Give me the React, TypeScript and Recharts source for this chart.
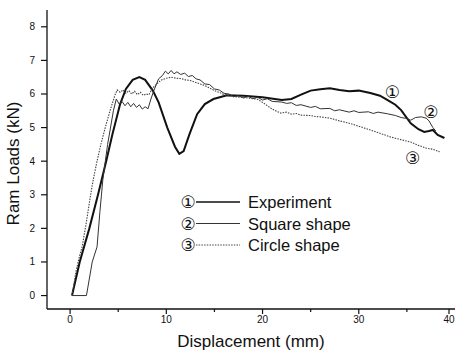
import React from "react";
import { LineChart, Line, XAxis, YAxis, ReferenceDot } from "recharts";

// displacement (mm) / ram load (kN)
const experiment = [
  { x: 0.2, y: 0 }, { x: 1.0, y: 1 }, { x: 2.0, y: 2 }, { x: 2.9, y: 3 }, { x: 3.75, y: 4 },
  { x: 4.4, y: 4.8 }, { x: 5.2, y: 5.7 }, { x: 5.8, y: 6.15 }, { x: 6.5, y: 6.42 }, { x: 7.2, y: 6.5 },
  { x: 7.8, y: 6.42 }, { x: 8.6, y: 6.1 }, { x: 9.2, y: 5.75 }, { x: 10.1, y: 5.0 }, { x: 10.9, y: 4.43 },
  { x: 11.35, y: 4.22 }, { x: 11.8, y: 4.3 }, { x: 12.4, y: 4.8 }, { x: 13.2, y: 5.4 }, { x: 14.0, y: 5.7 },
  { x: 14.9, y: 5.85 }, { x: 16.3, y: 5.96 }, { x: 18, y: 5.95 }, { x: 20, y: 5.9 }, { x: 22, y: 5.82 },
  { x: 23, y: 5.85 }, { x: 24, y: 5.98 }, { x: 25, y: 6.1 }, { x: 26, y: 6.14 }, { x: 27, y: 6.17 },
  { x: 28, y: 6.12 }, { x: 29, y: 6.08 }, { x: 30, y: 6.1 }, { x: 31.2, y: 6.03 }, { x: 32.2, y: 5.95 },
  { x: 33, y: 5.82 }, { x: 33.8, y: 5.68 }, { x: 34.4, y: 5.52 }, { x: 35.4, y: 5.13 }, { x: 36.2, y: 4.95 },
  { x: 36.8, y: 4.87 }, { x: 37.3, y: 4.9 }, { x: 37.7, y: 4.93 }, { x: 38.2, y: 4.78 }, { x: 38.9, y: 4.69 },
];

const squareShape = [
  { x: 0.2, y: 0 }, { x: 1.7, y: 0 }, { x: 2.3, y: 1 }, { x: 2.8, y: 1.45 }, { x: 3.1, y: 2.5 },
  { x: 3.4, y: 3.44 }, { x: 3.9, y: 4.5 }, { x: 4.5, y: 5.5 }, { x: 4.8, y: 5.85 }, { x: 5.1, y: 5.7 },
  { x: 5.4, y: 5.78 }, { x: 5.7, y: 5.65 }, { x: 6.0, y: 5.75 }, { x: 6.3, y: 5.62 }, { x: 6.6, y: 5.72 },
  { x: 6.9, y: 5.6 }, { x: 7.2, y: 5.68 }, { x: 7.5, y: 5.55 }, { x: 7.8, y: 5.62 }, { x: 8.1, y: 5.56 },
  { x: 8.4, y: 5.85 }, { x: 8.7, y: 6.1 }, { x: 9.2, y: 6.45 }, { x: 9.6, y: 6.55 }, { x: 9.9, y: 6.68 },
  { x: 10.2, y: 6.6 }, { x: 10.5, y: 6.7 }, { x: 10.8, y: 6.6 }, { x: 11.1, y: 6.66 }, { x: 11.5, y: 6.58 },
  { x: 11.9, y: 6.62 }, { x: 12.3, y: 6.52 }, { x: 12.7, y: 6.55 }, { x: 13.1, y: 6.45 }, { x: 13.5, y: 6.42 },
  { x: 14, y: 6.3 }, { x: 14.5, y: 6.28 }, { x: 15, y: 6.15 }, { x: 15.5, y: 6.12 }, { x: 16, y: 6.02 },
  { x: 16.5, y: 6.0 }, { x: 17, y: 5.92 }, { x: 17.5, y: 5.95 }, { x: 18, y: 5.88 }, { x: 18.5, y: 5.93 },
  { x: 19, y: 5.86 }, { x: 19.5, y: 5.9 }, { x: 20, y: 5.82 }, { x: 20.5, y: 5.86 }, { x: 21, y: 5.78 },
  { x: 22, y: 5.76 }, { x: 22.5, y: 5.72 }, { x: 23, y: 5.74 }, { x: 23.5, y: 5.66 }, { x: 24, y: 5.68 },
  { x: 25, y: 5.6 }, { x: 25.5, y: 5.63 }, { x: 26, y: 5.56 }, { x: 27, y: 5.57 }, { x: 27.5, y: 5.5 },
  { x: 28, y: 5.53 }, { x: 29, y: 5.46 }, { x: 29.5, y: 5.5 }, { x: 30, y: 5.45 }, { x: 31, y: 5.47 },
  { x: 31.5, y: 5.42 }, { x: 32, y: 5.46 }, { x: 33, y: 5.41 }, { x: 33.8, y: 5.36 }, { x: 34.4, y: 5.3 },
  { x: 35, y: 5.27 }, { x: 35.4, y: 5.22 }, { x: 35.9, y: 5.3 }, { x: 36.5, y: 5.32 }, { x: 37.0, y: 5.28 },
  { x: 37.3, y: 5.2 }, { x: 37.7, y: 5.0 }, { x: 38.0, y: 4.9 },
];

const circleShape = [
  { x: 0.2, y: 0 }, { x: 0.6, y: 0.7 }, { x: 1.0, y: 1.2 }, { x: 1.25, y: 1.45 }, { x: 1.7, y: 2.2 },
  { x: 2.1, y: 2.94 }, { x: 2.4, y: 3.44 }, { x: 2.8, y: 4.0 }, { x: 3.2, y: 4.5 }, { x: 3.65, y: 5.0 },
  { x: 4.2, y: 5.55 }, { x: 4.7, y: 6.0 }, { x: 4.9, y: 6.12 }, { x: 5.2, y: 6.05 }, { x: 5.5, y: 6.12 },
  { x: 5.8, y: 6.02 }, { x: 6.1, y: 6.1 }, { x: 6.4, y: 6.0 }, { x: 6.7, y: 6.08 }, { x: 7.0, y: 5.98 },
  { x: 7.3, y: 6.05 }, { x: 7.6, y: 5.96 }, { x: 7.9, y: 6.0 }, { x: 8.2, y: 5.98 }, { x: 8.5, y: 6.15 },
  { x: 9.0, y: 6.3 }, { x: 9.5, y: 6.42 }, { x: 10, y: 6.47 }, { x: 10.5, y: 6.5 }, { x: 11, y: 6.47 },
  { x: 11.5, y: 6.46 }, { x: 12, y: 6.42 }, { x: 12.5, y: 6.4 }, { x: 13, y: 6.35 }, { x: 13.5, y: 6.3 },
  { x: 14, y: 6.25 }, { x: 14.5, y: 6.18 }, { x: 15, y: 6.1 }, { x: 15.5, y: 6.05 }, { x: 16, y: 5.98 },
  { x: 17, y: 5.92 }, { x: 18, y: 5.9 }, { x: 19, y: 5.86 }, { x: 19.5, y: 5.84 }, { x: 20, y: 5.75 },
  { x: 20.5, y: 5.65 }, { x: 21, y: 5.55 }, { x: 21.9, y: 5.43 }, { x: 22.5, y: 5.46 }, { x: 23, y: 5.4 },
  { x: 23.5, y: 5.42 }, { x: 24, y: 5.37 }, { x: 25, y: 5.36 }, { x: 25.5, y: 5.33 }, { x: 26, y: 5.32 },
  { x: 27, y: 5.28 }, { x: 28, y: 5.2 }, { x: 29, y: 5.13 }, { x: 30, y: 5.04 }, { x: 31.2, y: 4.93 },
  { x: 32.2, y: 4.83 }, { x: 33.3, y: 4.72 }, { x: 34.4, y: 4.64 }, { x: 35.4, y: 4.57 }, { x: 36.2, y: 4.47 },
  { x: 37, y: 4.39 }, { x: 37.6, y: 4.36 }, { x: 38.4, y: 4.28 },
];

const xTicks = [0, 5, 10, 15, 20, 25, 30, 35, 40];
const yTicks = [0, 0.5, 1, 1.5, 2, 2.5, 3, 3.5, 4, 4.5, 5, 5.5, 6, 6.5, 7, 7.5, 8];

const seriesNames = ["Experiment", "Square shape", "Circle shape"];
const marks = ["①", "②", "③"];
// where the circled numbers sit next to the curves (x, y in data units)
const markSpots = [
  { x: 33.5, y: 6.05 },
  { x: 37.5, y: 5.46 },
  { x: 35.6, y: 4.1 },
];

const FONT = "'Liberation Sans', Arial, sans-serif";
const MARK_FONT = "'DejaVu Sans'";

const XTick = (props: any) => {
  const { x, y, payload } = props;
  const major = payload.value % 10 === 0;
  return (
    <g>
      <line x1={x} x2={x} y1={y} y2={y + (major ? 5 : 3)} stroke="#111" strokeWidth={1.2} />
      {major && (
        <text x={x} y={y + 14} textAnchor="middle" fontSize={10} fontFamily={FONT} fill="#111">
          {payload.value}
        </text>
      )}
    </g>
  );
};

const YTick = (props: any) => {
  const { x, y, payload } = props;
  const major = Number.isInteger(payload.value);
  return (
    <g>
      <line x1={x - (major ? 6 : 3)} x2={x} y1={y} y2={y} stroke="#111" strokeWidth={1.2} />
      {major && (
        <text x={x - 12} y={y + 3.5} textAnchor="end" fontSize={10} fontFamily={FONT} fill="#111">
          {payload.value}
        </text>
      )}
    </g>
  );
};

const YLabel = (props: any) => {
  const vb = props.viewBox || { x: 0, y: 10, width: 47, height: 299 };
  const cx = 19;
  const cy = vb.y + vb.height / 2 + 4;
  return (
    <text
      x={cx}
      y={cy}
      transform={`rotate(-90 ${cx} ${cy})`}
      textAnchor="middle"
      fontSize={17}
      fontFamily={FONT}
      fill="#111"
    >
      Ram Loads (kN)
    </text>
  );
};

const lineStyles = [
  { stroke: "#111", strokeWidth: 2, dash: undefined as string | undefined },
  { stroke: "#333", strokeWidth: 1, dash: undefined as string | undefined },
  { stroke: "#444", strokeWidth: 1.1, dash: "1.5 1.2" },
];

function LegendBox() {
  return (
    <svg width={200} height={70} style={{ position: "absolute", left: 178, top: 190 }}>
      {seriesNames.map((name, i) => {
        const cy = 12 + i * 21.5;
        const s = lineStyles[i];
        return (
          <g key={name}>
            <text x={10} y={cy + 6} textAnchor="middle" fontSize={17} fontFamily={MARK_FONT} fill="#111">
              {marks[i]}
            </text>
            <line x1={18} x2={62} y1={cy} y2={cy} stroke={s.stroke} strokeWidth={i === 0 ? 1.3 : 1} strokeDasharray={s.dash} />
            <text x={70} y={cy + 6} fontSize={16.5} fontFamily={FONT} fill="#111">
              {name}
            </text>
          </g>
        );
      })}
    </svg>
  );
}

export default function App() {
  const series = [experiment, squareShape, circleShape];
  return (
    <div style={{ position: "absolute", left: 0, top: 0, width: 457, height: 358, background: "#fff" }}>
      <LineChart width={457} height={358} margin={{ top: 10, right: 2, left: 0, bottom: 0 }}>
        <XAxis
          type="number"
          dataKey="x"
          domain={[-2.4, 40]}
          ticks={xTicks}
          allowDataOverflow
          tickSize={0}
          tickMargin={0}
          tickLine={false}
          tick={<XTick />}
          height={49}
          stroke="#111"
          strokeWidth={1.3}
          label={{ value: "Displacement (mm)", position: "insideBottom", offset: 11, fontSize: 17, fontFamily: FONT, fill: "#111" }}
        />
        <YAxis
          type="number"
          dataKey="y"
          domain={[-0.4, 8.5]}
          ticks={yTicks}
          allowDataOverflow
          tickSize={0}
          tickMargin={0}
          tickLine={false}
          tick={<YTick />}
          width={47}
          stroke="#111"
          strokeWidth={1.3}
          label={{ content: <YLabel /> }}
        />
        {series.map((d, i) => (
          <Line
            key={seriesNames[i]}
            data={d}
            dataKey="y"
            type="linear"
            dot={false}
            stroke={lineStyles[i].stroke}
            strokeWidth={lineStyles[i].strokeWidth}
            strokeDasharray={lineStyles[i].dash}
            isAnimationActive={false}
          />
        ))}
        {markSpots.map((p, i) => (
          <ReferenceDot
            key={marks[i]}
            x={p.x}
            y={p.y}
            r={0}
            ifOverflow="visible"
            label={{ value: marks[i], position: "center", fontSize: 17, fontFamily: MARK_FONT, fill: "#111" }}
          />
        ))}
      </LineChart>
      <LegendBox />
    </div>
  );
}
